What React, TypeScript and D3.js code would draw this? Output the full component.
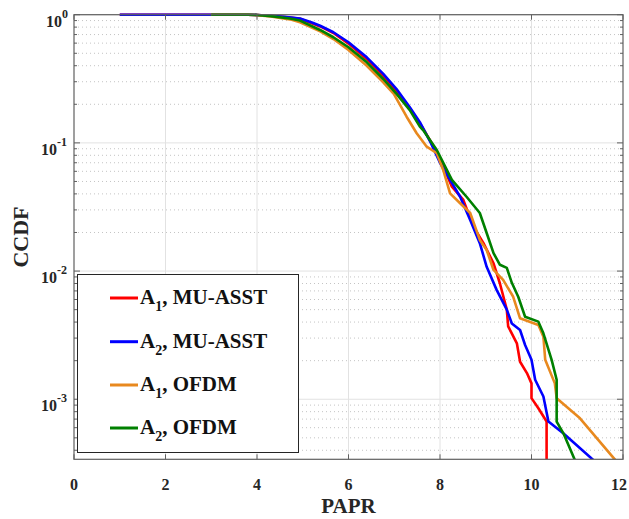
import React from "react";
import * as d3 from "d3";

const xTicks = [0, 2, 4, 6, 8, 10, 12];
const yDecades = [0, -1, -2, -3];

const a1Asst: [number, number][] = [
  [1, 1], [3.8, 1], [4.0, 0.995], [4.3, 0.98], [4.72, 0.95], [4.94, 0.93], [5.38, 0.81], [5.67, 0.72],
  [6.0, 0.595], [6.4, 0.45], [6.76, 0.333], [7.05, 0.252], [7.34, 0.185], [7.6, 0.135], [7.85, 0.095],
  [8.05, 0.068], [8.26, 0.0455], [8.51, 0.0359], [8.73, 0.0222], [8.95, 0.0165], [9.17, 0.0115],
  [9.31, 0.008], [9.46, 0.005], [9.49, 0.0037], [9.68, 0.00273], [9.75, 0.00196], [9.9, 0.0016],
  [10.0, 0.00133], [10.0, 0.00102], [10.15, 0.00085], [10.33, 0.00067], [10.33, 0.0003],
];
const a2Asst: [number, number][] = [
  [1, 1], [3.8, 1], [4.0, 0.996], [4.3, 0.982], [4.6, 0.962], [4.94, 0.935], [5.2, 0.87], [5.38, 0.82],
  [5.67, 0.73], [6.0, 0.61], [6.4, 0.465], [6.76, 0.345], [7.05, 0.263], [7.34, 0.19], [7.56, 0.145],
  [7.8, 0.1], [8.0, 0.07], [8.22, 0.0514], [8.44, 0.038], [8.66, 0.025], [8.87, 0.0165], [9.02, 0.0108],
  [9.24, 0.0071], [9.46, 0.005], [9.57, 0.0039], [9.75, 0.00347], [9.86, 0.00265], [10.0, 0.00203],
  [10.08, 0.00142], [10.26, 0.00105], [10.37, 0.00067], [10.7, 0.00054], [11.35, 0.000336],
];
const a1Ofdm: [number, number][] = [
  [3, 1], [3.8, 1], [4.0, 0.993], [4.3, 0.97], [4.72, 0.92], [4.94, 0.873], [5.38, 0.742], [5.67, 0.646],
  [6.0, 0.531], [6.4, 0.4], [6.76, 0.297], [6.99, 0.241], [7.27, 0.16], [7.49, 0.119], [7.71, 0.0934],
  [7.93, 0.083], [8.07, 0.0615], [8.22, 0.0404], [8.44, 0.0338], [8.66, 0.0284], [8.87, 0.0175],
  [9.02, 0.0146], [9.17, 0.0102], [9.38, 0.00853], [9.6, 0.0063], [9.75, 0.00428], [10.15, 0.0038],
  [10.26, 0.00308], [10.3, 0.00203], [10.51, 0.00133], [10.55, 0.00102], [11.06, 0.00071], [11.83, 0.000336],
];
const a2Ofdm: [number, number][] = [
  [3, 1], [3.8, 1], [4.0, 0.995], [4.3, 0.975], [4.72, 0.935], [4.94, 0.9], [5.38, 0.76], [5.67, 0.667],
  [6.0, 0.557], [6.4, 0.425], [6.76, 0.315], [7.05, 0.241], [7.34, 0.18], [7.56, 0.134], [7.63, 0.126],
  [7.93, 0.088], [8.26, 0.0514], [8.58, 0.038], [8.87, 0.0284], [9.02, 0.0198], [9.17, 0.0138],
  [9.31, 0.0112], [9.46, 0.0106], [9.57, 0.0081], [9.71, 0.0063], [9.86, 0.0044], [10.15, 0.00403],
  [10.26, 0.00327], [10.44, 0.00203], [10.55, 0.00142], [10.55, 0.00067], [10.7, 0.00054], [10.95, 0.000334],
];

const seriesNames = ["MU-ASST", "MU-ASST", "OFDM", "OFDM"];
const seriesSubs = ["1", "2", "1", "2"];
const seriesColors = ["#ff0000", "#0000ff", "#e8891f", "#008000"];
const seriesData = [a1Asst, a2Asst, a1Ofdm, a2Ofdm];

const W = 629;
const H = 519;
const L = 74, R = 623, T = 14.7, B = 459.3;
const FONT = "'Liberation Serif', 'Times New Roman', serif";

export default function App() {
  const x = d3.scaleLinear().domain([0, 12]).range([L, R]);
  const y = d3.scaleLog().domain([3.4e-4, 1]).range([B, T]);
  const line = d3.line<[number, number]>().x((d) => x(d[0])).y((d) => y(d[1]));

  const minors: number[] = [];
  for (let e = -4; e < 0; e++) {
    for (let m = 2; m <= 9; m++) {
      const v = m * Math.pow(10, e);
      if (v >= 3.4e-4 && v < 1) minors.push(v);
    }
  }

  const axisCol = "#606060";
  const legendRows = [298, 341.7, 385, 428];

  return (
    <svg width={W} height={H} style={{ position: "absolute", left: 0, top: 0, background: "#fff" }}>
      <defs>
        <clipPath id="plotClip">
          <rect x={L} y={T - 2} width={R - L} height={B - T + 2} />
        </clipPath>
      </defs>
      <rect x={0} y={0} width={W} height={H} fill="#fff" />
      {/* grid */}
      {minors.map((v, i) => (
        <line key={"mg" + i} x1={L} x2={R} y1={y(v)} y2={y(v)} stroke="#c4c4c4" strokeWidth={1} strokeDasharray="1,3" />
      ))}
      {yDecades.map((e) => (
        <line key={"yg" + e} x1={L} x2={R} y1={y(Math.pow(10, e))} y2={y(Math.pow(10, e))} stroke="#e2e2e2" strokeWidth={1} />
      ))}
      {xTicks.slice(1, -1).map((t) => (
        <line key={"xg" + t} x1={x(t)} x2={x(t)} y1={T} y2={B} stroke="#e2e2e2" strokeWidth={1} />
      ))}
      {/* curves */}
      <g clipPath="url(#plotClip)">
        {seriesData.map((d, i) => (
          <path key={"s" + i} d={line(d) || ""} fill="none" stroke={seriesColors[i]} strokeWidth={2.6} strokeLinejoin="round" />
        ))}
      </g>
      {/* frame */}
      <rect x={L} y={T} width={R - L} height={B - T} fill="none" stroke={axisCol} strokeWidth={1.2} />
      {/* x ticks */}
      {xTicks.map((t) => (
        <g key={"xt" + t}>
          <line x1={x(t)} x2={x(t)} y1={B} y2={B - 5} stroke={axisCol} />
          <line x1={x(t)} x2={x(t)} y1={T} y2={T + 5} stroke={axisCol} />
          <text x={Math.min(x(t), 619)} y={490} textAnchor="middle" fontFamily={FONT} fontWeight="bold" fontSize={16} fill="#262626">
            {t}
          </text>
        </g>
      ))}
      {/* y ticks */}
      {minors.map((v, i) => (
        <g key={"ymt" + i}>
          <line x1={L} x2={L + 3} y1={y(v)} y2={y(v)} stroke={axisCol} />
          <line x1={R} x2={R - 3} y1={y(v)} y2={y(v)} stroke={axisCol} />
        </g>
      ))}
      {yDecades.map((e) => {
        const yy = y(Math.pow(10, e));
        return (
          <g key={"yt" + e}>
            <line x1={L} x2={L + 6} y1={yy} y2={yy} stroke={axisCol} />
            <line x1={R} x2={R - 6} y1={yy} y2={yy} stroke={axisCol} />
            <text x={e === 0 ? 62 : 57} y={yy + 12} textAnchor="end" fontFamily={FONT} fontWeight="bold" fontSize={16} fill="#262626">
              10
            </text>
            <text x={e === 0 ? 62 : 57} y={yy + 3} textAnchor="start" fontFamily={FONT} fontWeight="bold" fontSize={12} fill="#262626">
              {e === 0 ? "0" : "-" + String(-e)}
            </text>
          </g>
        );
      })}
      {/* axis labels */}
      <text x={(L + R) / 2} y={513} textAnchor="middle" fontFamily={FONT} fontWeight="bold" fontSize={21} fill="#262626">
        PAPR
      </text>
      <text
        transform={`translate(28, ${(T + B) / 2}) rotate(-90)`}
        textAnchor="middle"
        fontFamily={FONT}
        fontWeight="bold"
        fontSize={22}
        fill="#262626"
      >
        CCDF
      </text>
      {/* legend */}
      <rect x={77.5} y={274.5} width={221} height={178} fill="#fff" stroke="#262626" strokeWidth={1} />
      {seriesNames.map((n, i) => (
        <g key={"lg" + i}>
          <line x1={110} x2={138} y1={legendRows[i]} y2={legendRows[i]} stroke={seriesColors[i]} strokeWidth={3} />
          <text x={140} y={legendRows[i] + 6} fontFamily={FONT} fontWeight="bold" fontSize={21} fill="#111">
            A
            <tspan fontSize={14} dy={7}>{seriesSubs[i]}</tspan>
            <tspan dy={-7}>, {n}</tspan>
          </text>
        </g>
      ))}
    </svg>
  );
}
